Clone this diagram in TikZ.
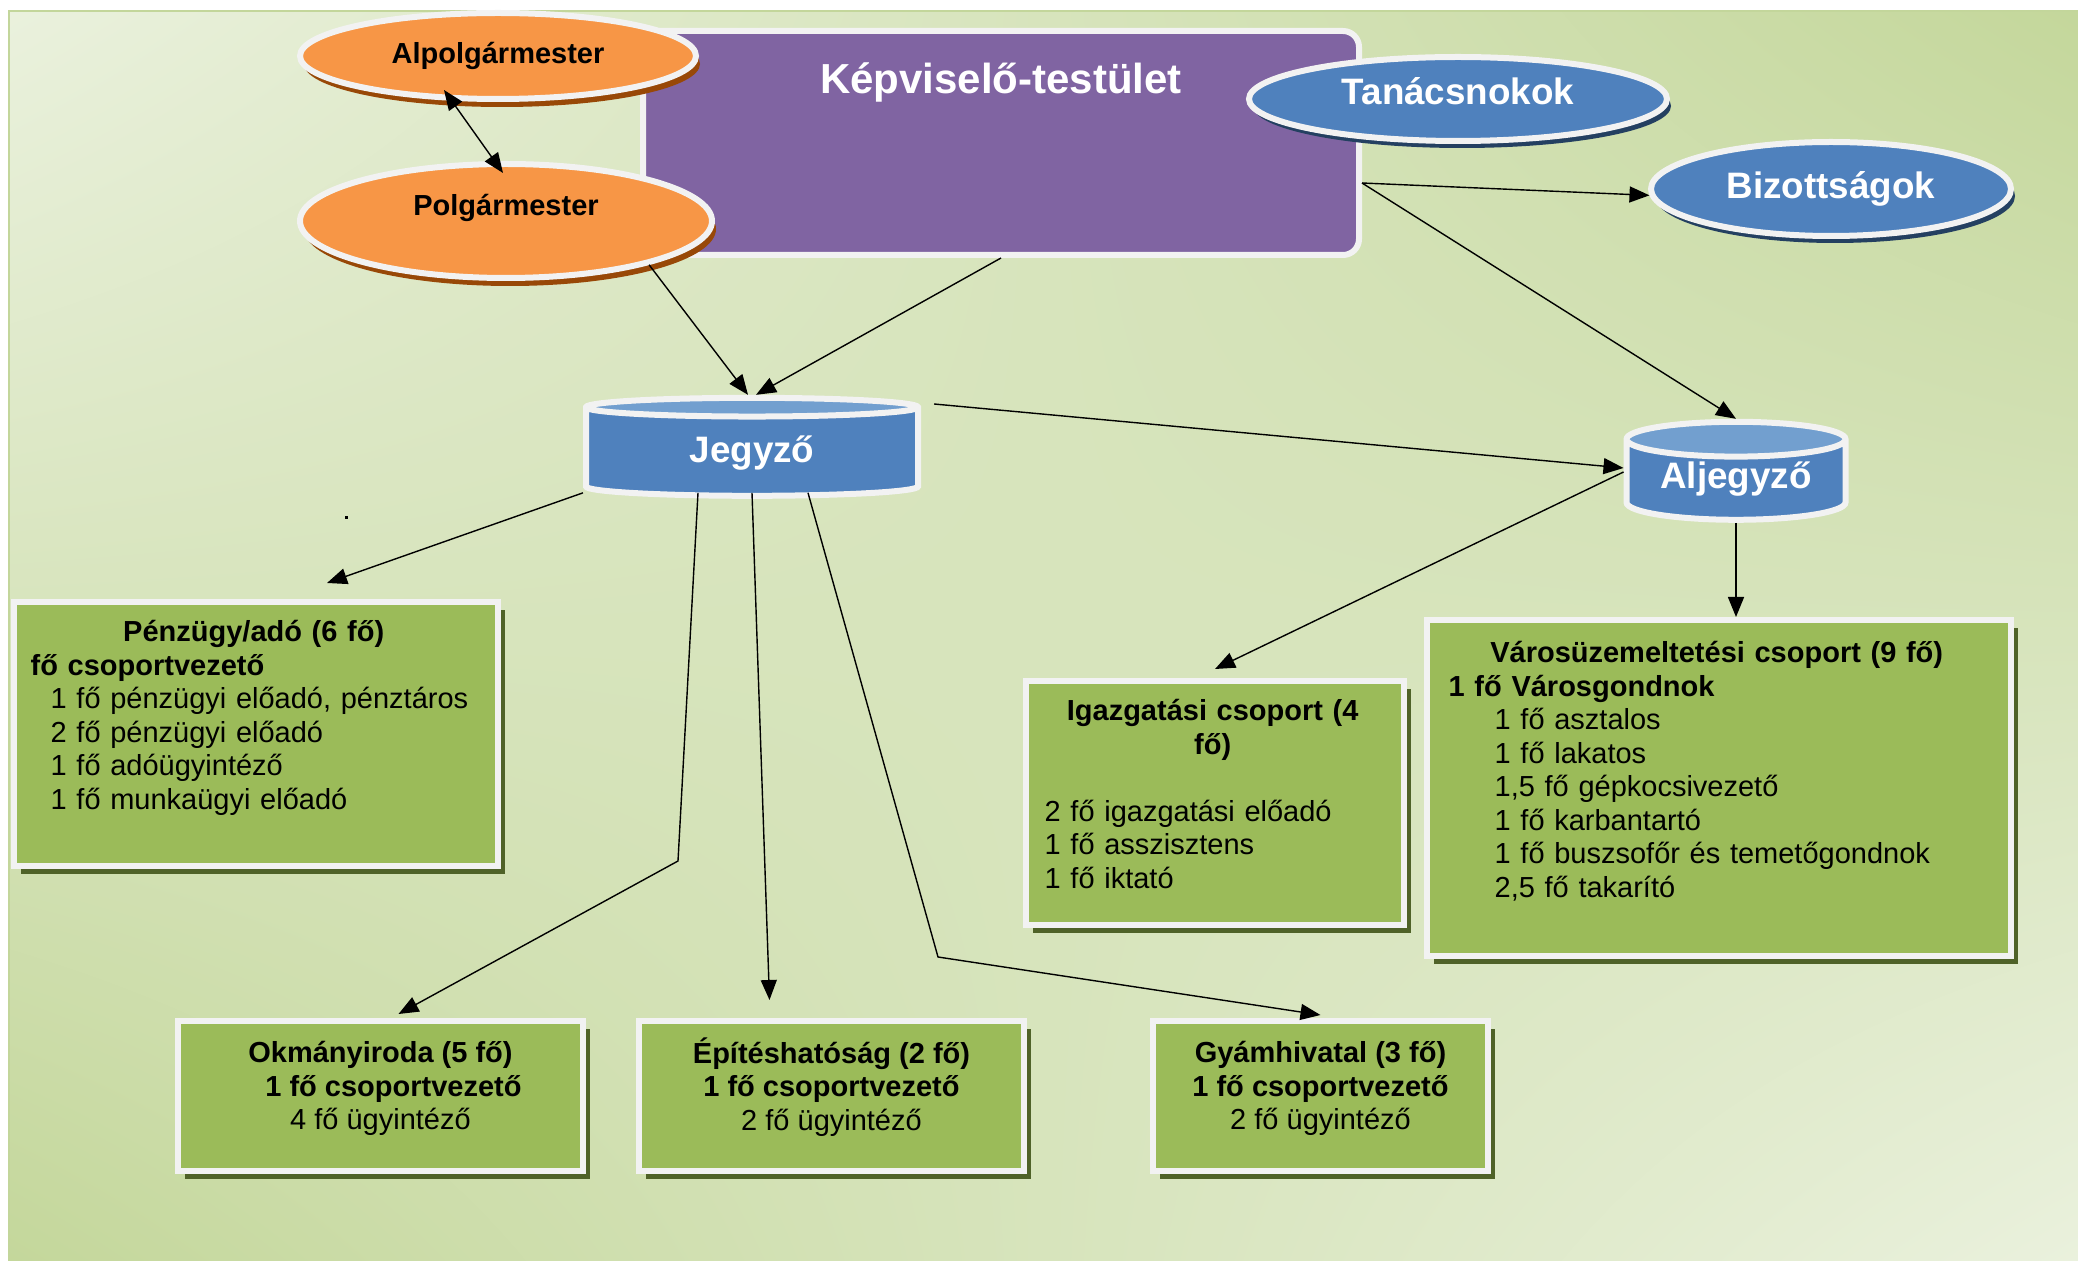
\documentclass[tikz,border=0pt]{standalone}
\usepackage{fontspec}
\setmainfont{Liberation Sans}
\definecolor{orgBgPale}{HTML}{EAF1DD}
\definecolor{orgBgDeep}{HTML}{C4D79B}
\definecolor{orgBgEdge}{HTML}{C3D69B}
\definecolor{orgRim}{HTML}{F2F2F2}
\definecolor{orgOrange}{HTML}{F79646}
\definecolor{orgOrangeDk}{HTML}{984807}
\definecolor{orgBlue}{HTML}{4F81BD}
\definecolor{orgBlueLt}{HTML}{729FCF}
\definecolor{orgBlueDk}{HTML}{244061}
\definecolor{orgPurple}{HTML}{8064A2}
\definecolor{orgGreen}{HTML}{9BBB59}
\definecolor{orgGreenDk}{HTML}{4F6228}
\usetikzlibrary{positioning,shapes.geometric,shadows,shadings,arrows.meta}

\begin{document}
\begin{tikzpicture}[x=0.5pt,y=-0.5pt,line width=0.7pt,
                    >={Triangle[length=10pt,width=8pt]},
                    oval/.style={ellipse,draw=orgRim,line width=3pt,inner sep=0pt,
                                 font=\bfseries\fontsize{14.5pt}{17pt}\selectfont},
                    mayor/.style={oval,fill=orgOrange,
                                  drop shadow={fill=orgOrangeDk,opacity=1,shadow xshift=2pt,shadow yshift=-4pt}},
                    member/.style={oval,fill=orgBlue,text=white,
                                   font=\bfseries\fontsize{18.4pt}{21pt}\selectfont,
                                   drop shadow={fill=orgBlueDk,opacity=1,shadow xshift=2pt,shadow yshift=-3.5pt}},
                    clerk/.style={cylinder,shape border rotate=90,draw=orgRim,line width=3pt,
                                  cylinder uses custom fill,cylinder body fill=orgBlue,
                                  cylinder end fill=orgBlueLt,inner sep=0pt,text=white,
                                  font=\bfseries\fontsize{18.4pt}{21pt}\selectfont},
                    grpbox/.style={draw=orgRim,line width=3pt,fill=orgGreen,
                                   drop shadow={fill=orgGreenDk,opacity=1,shadow xshift=3.5pt,shadow yshift=-4pt}},
                    grptext/.style={inner sep=0pt,font=\fontsize{14.5pt}{16.75pt}\selectfont}]
  \useasboundingbox (0,0) rectangle (2078,1261);
  \fill[white] (0,0) rectangle (2078,1261);
  \shade[upper left=orgBgPale,upper right=orgBgDeep,lower left=orgBgDeep,lower right=orgBgPale]
    (9,11) rectangle (2078,1261);
  \draw[orgBgEdge,line width=1pt] (2078,11) -- (9,11) -- (9,1261);
  \fill (345,516) rectangle (348,519);

  % council block first, the ovals overlap it
  \node[draw=orgRim,line width=3pt,fill=orgPurple,rounded corners=8pt,
        minimum width=358pt,minimum height=112pt,
        label={[name=kv-title,anchor=north,yshift=-17pt,inner sep=0pt,text=white,
                font=\bfseries\fontsize{21pt}{24pt}\selectfont]north:Képviselő-testület}]
        (kv) at (1001,143) {};
  \node[mayor,minimum width=198pt,minimum height=43pt] (alpolg) at (498,56) {Alpolgármester};
  \node[mayor,minimum width=206pt,minimum height=57pt,text depth=16pt] (polg) at (506,221) {Polgármester};
  \node[member,minimum width=209pt,minimum height=42pt,text depth=8pt] (tan) at (1458,99) {Tanácsnokok};
  \node[member,minimum width=180pt,minimum height=47pt] (biz) at (1831,189) {Bizottságok};

  \node[clerk,minimum width=166pt,minimum height=49pt,aspect=0.15] (jeg) at (752,453) {Jegyző};
  \node[clerk,minimum width=109.5pt,minimum height=49pt,aspect=0.23,text height=11pt] (alj) at (1736,481) {Aljegyző};

  % groups
  \node[grpbox,minimum width=242pt,minimum height=132pt] (penz) at (256,734) {};
  \node[grptext,below right=10.5pt and 9.5pt of penz.north west,text width=223pt,align=left] (penz-txt)
    {\makebox[\linewidth]{\bfseries Pénzügy/adó (6 fő)}\\
     {\bfseries fő csoportvezető}\\
     \hspace*{10pt}1 fő pénzügyi előadó, pénztáros\\
     \hspace*{10pt}2 fő pénzügyi előadó\\
     \hspace*{10pt}1 fő adóügyintéző\\
     \hspace*{10pt}1 fő munkaügyi előadó};

  \node[grpbox,minimum width=189pt,minimum height=122pt] (igaz) at (1215,803) {};
  \node[grptext,below right=10.3pt and 10.5pt of igaz.north west,text width=168pt,align=left] (igaz-txt)
    {\makebox[\linewidth]{\bfseries Igazgatási csoport (4}\\
     \makebox[\linewidth]{\bfseries fő)}\\[16.75pt]
     2 fő igazgatási előadó\\
     1 fő asszisztens\\
     1 fő iktató};

  \node[grpbox,minimum width=292pt,minimum height=168pt] (varos) at (1719,788) {};
  \node[grptext,below right=11.8pt and 12pt of varos.north west,text width=268pt,align=left] (varos-txt)
    {\makebox[\linewidth]{\bfseries Városüzemeltetési csoport (9 fő)}\\
     {\bfseries 1 fő Városgondnok}\\
     \hspace*{23pt}1 fő asztalos\\
     \hspace*{23pt}1 fő lakatos\\
     \hspace*{23pt}1,5 fő gépkocsivezető\\
     \hspace*{23pt}1 fő karbantartó\\
     \hspace*{23pt}1 fő buszsofőr és temetőgondnok\\
     \hspace*{23pt}2,5 fő takarító};

  \node[grpbox,minimum width=202.5pt,minimum height=75pt] (okm) at (380.5,1096) {};
  \node[grptext,below=11.5pt of okm.north,align=center] (okm-txt)
    {\bfseries Okmányiroda (5 fő)\\
     \hspace*{13pt}\bfseries 1 fő csoportvezető\\
     4 fő ügyintéző};
  \node[grpbox,minimum width=192.5pt,minimum height=75pt] (epit) at (831.5,1096) {};
  \node[grptext,below=9.5pt of epit.north,align=center] (epit-txt)
    {\bfseries Építéshatóság (2 fő)\\
     \bfseries 1 fő csoportvezető\\
     2 fő ügyintéző};
  \node[grpbox,minimum width=167.5pt,minimum height=75pt] (gyam) at (1320.5,1096) {};
  \node[grptext,below=11.5pt of gyam.north,align=center] (gyam-txt)
    {\bfseries Gyámhivatal (3 fő)\\
     \bfseries 1 fő csoportvezető\\
     2 fő ügyintéző};

  \coordinate (okm-bend) at (678,861);
  \coordinate (gyam-bend) at (938,957);

  \draw[<->] ([shift={(-27pt,-17pt)}]alpolg.center) -- ([xshift=-1.5pt,yshift=-6pt]polg.north);
  \draw[->] (polg.-17) -- ([xshift=-2pt]jeg.north);
  \draw[->] (kv.south) -- ([xshift=2pt]jeg.north);
  \draw[->] ([yshift=-20pt]kv.east) -- (biz.182);
  \draw[->] ([yshift=-20pt]kv.east) -- (alj.north);
  \draw[->] ([xshift=6.5pt,yshift=24.5pt]jeg.east) -- ([yshift=6.5pt]alj.west);
  \draw[->] ([xshift=-84.5pt,yshift=3pt]jeg.south) -- ([xshift=35.5pt,yshift=8pt]penz.north);
  \draw[->] ([xshift=-27pt,yshift=3pt]jeg.south) -- (okm-bend) -- ([xshift=9pt,yshift=2pt]okm.north);
  \draw[->] ([yshift=3pt]jeg.south) -- ([xshift=-31pt,yshift=9pt]epit.north);
  \draw[->] ([xshift=28pt,yshift=3pt]jeg.south) -- (gyam-bend) -- ([yshift=1.5pt]gyam.north);
  \draw[->] ([yshift=4.5pt]alj.west) -- ([yshift=4.5pt]igaz.north);
  \draw[->] (alj.south) -- (alj.south |- varos.north);
\end{tikzpicture}
\end{document}
